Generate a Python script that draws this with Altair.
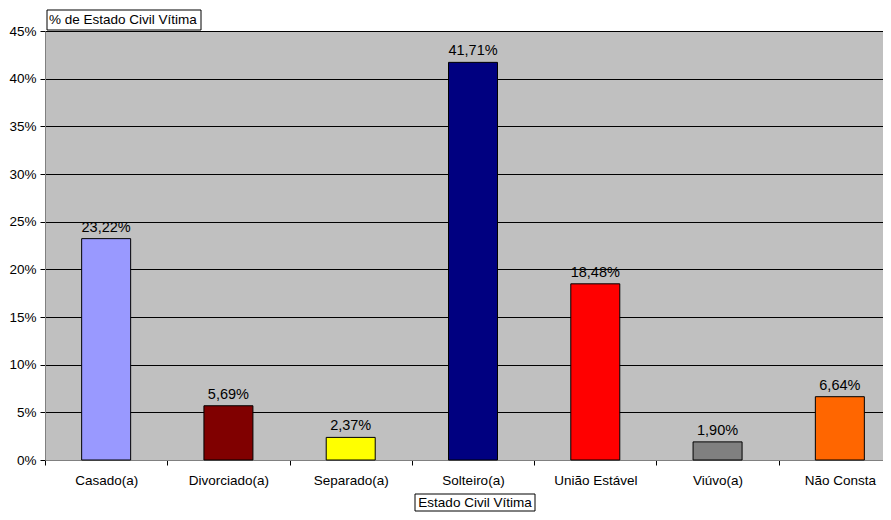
import altair as alt
import pandas as pd

categories = ["Casado(a)", "Divorciado(a)", "Separado(a)", "Solteiro(a)",
              "União Estável", "Viúvo(a)", "Não Consta"]
values = [23.22, 5.69, 2.37, 41.71, 18.48, 1.90, 6.64]
colors = ["#9999FF", "#800000", "#FFFF00", "#000080", "#FF0000", "#808080", "#FF6600"]
y_ticks = [0, 5, 10, 15, 20, 25, 30, 35, 40, 45]
y_title = "% de Estado Civil Vítima"
x_title = "Estado Civil Vítima"

FONT = "Liberation Sans"

df = pd.DataFrame({
    "cat": categories,
    "val": values,
    "label": [f"{v:.2f}".replace(".", ",") + "%" for v in values],
})

x_enc = alt.X(
    "cat:N", sort=categories,
    scale=alt.Scale(range=[0, 856], paddingInner=0, paddingOuter=0),
    axis=alt.Axis(title=None, labelAngle=0, tickBand="extent", tickSize=5,
                  tickColor="black", domainColor="#808080", labelPadding=8,
                  labelFont=FONT, labelFontSize=13.5, labelColor="black",
                  grid=False),
)
y_enc = alt.Y(
    "val:Q",
    scale=alt.Scale(domain=[0, 45], nice=False, zero=True),
    axis=alt.Axis(title=None, values=y_ticks, labelExpr="datum.value + '%'",
                  grid=True, gridColor="black", gridWidth=1, gridOpacity=1,
                  tickSize=5, tickColor="black", domainColor="#808080",
                  labelPadding=4, labelFont=FONT, labelFontSize=13.5,
                  labelColor="black"),
)

bars = alt.Chart(df).mark_bar(size=49, stroke="black", strokeWidth=1).encode(
    x=x_enc, y=y_enc,
    color=alt.Color("cat:N", scale=alt.Scale(domain=categories, range=colors), legend=None),
)

labels = alt.Chart(df).mark_text(dy=-7, baseline="alphabetic", font=FONT,
                                 fontSize=14.5, color="black").encode(
    x=alt.X("cat:N", sort=categories), y="val:Q", text="label:N"
)

one = pd.DataFrame({"t": [y_title], "u": [x_title]})

ybox = alt.Chart(one).mark_rect(fill="white", stroke="black", strokeWidth=1).encode(
    x=alt.value(2), x2=alt.value(156), y=alt.value(-21), y2=alt.value(-1)
)
ytext = alt.Chart(one).mark_text(align="left", baseline="middle", font=FONT,
                                 fontSize=13.5, color="black").encode(
    x=alt.value(4), y=alt.value(-11), text="t:N"
)
xbox = alt.Chart(one).mark_rect(fill="white", stroke="black", strokeWidth=1).encode(
    x=alt.value(370), x2=alt.value(490), y=alt.value(463), y2=alt.value(480)
)
xtext = alt.Chart(one).mark_text(align="center", baseline="middle", font=FONT,
                                 fontSize=13.5, color="black").encode(
    x=alt.value(430), y=alt.value(471.5), text="u:N"
)

chart = alt.layer(bars, labels, ybox, ytext, xbox, xtext).properties(
    width=838, height=429,
    background="white",
    autosize=alt.AutoSizeParams(type="none"),
    padding={"left": 37, "top": 23, "right": 0, "bottom": 52},
).configure_view(
    fill="#C0C0C0", strokeWidth=0
)

chart.save("out.html", embed_options={"renderer": "svg", "actions": False})
